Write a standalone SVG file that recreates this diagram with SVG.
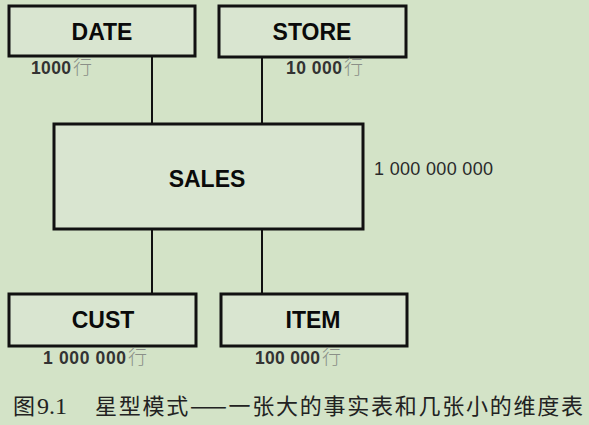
<svg xmlns="http://www.w3.org/2000/svg" width="589" height="425" viewBox="0 0 589 425">
<style>
.box{fill:#d9e5d0;stroke:#111;stroke-width:3}
.name{font-family:"Liberation Sans",Arial,sans-serif;font-weight:bold;font-size:23px;fill:#0a0a0a;text-anchor:middle}
.num{font-family:"Liberation Sans",Arial,sans-serif;font-weight:bold;font-size:17.5px;fill:#333}
.row{font-family:"Noto Sans CJK SC",sans-serif;font-weight:300;font-size:19px;fill:#8a8f88}
.conn{stroke:#111;stroke-width:2;fill:none}
.cap{font-family:"Noto Sans CJK SC",sans-serif;font-size:22px;fill:#222}
</style>
<rect width="589" height="425" fill="#d3e3c7"/>
<g id="connectors">
<line class="conn" x1="152" y1="56" x2="152" y2="124"/>
<line class="conn" x1="262" y1="57" x2="262" y2="124"/>
<line class="conn" x1="152" y1="229" x2="152" y2="294"/>
<line class="conn" x1="262" y1="229" x2="262" y2="294"/>
</g>
<g id="date">
<rect class="box" x="9" y="6" width="186" height="50"/>
<text class="name" x="102" y="40">DATE</text>
<text class="num" x="31" y="74" textLength="40">1000</text>
<text class="row" x="73" y="74">行</text>
</g>
<g id="store">
<rect class="box" x="219" y="6" width="187" height="51"/>
<text class="name" x="312" y="40">STORE</text>
<text class="num" x="286" y="74" textLength="56">10 000</text>
<text class="row" x="344" y="74">行</text>
</g>
<g id="sales">
<rect class="box" x="54" y="124" width="309" height="105"/>
<text class="name" x="207" y="187">SALES</text>
<text style="font-family:'Liberation Sans',Arial,sans-serif;font-size:18px;fill:#2a2a2a" x="374" y="175" textLength="119">1 000 000 000</text>
</g>
<g id="cust">
<rect class="box" x="9" y="294" width="187" height="52"/>
<text class="name" x="103" y="328">CUST</text>
<text class="num" x="43" y="364" textLength="83">1 000 000</text>
<text class="row" x="128" y="364">行</text>
</g>
<g id="item">
<rect class="box" x="221" y="294" width="186" height="52"/>
<text class="name" x="313" y="328">ITEM</text>
<text class="num" x="255" y="364" textLength="65">100 000</text>
<text class="row" x="322" y="364">行</text>
</g>
<g id="caption">
<text class="cap" x="13" y="414">图<tspan style="font-family:'Liberation Serif',serif;font-size:24px" x="37">9.1</tspan></text>
<text class="cap" x="95" y="414" textLength="488" lengthAdjust="spacing">星型模式——一张大的事实表和几张小的维度表</text>
</g>
</svg>
